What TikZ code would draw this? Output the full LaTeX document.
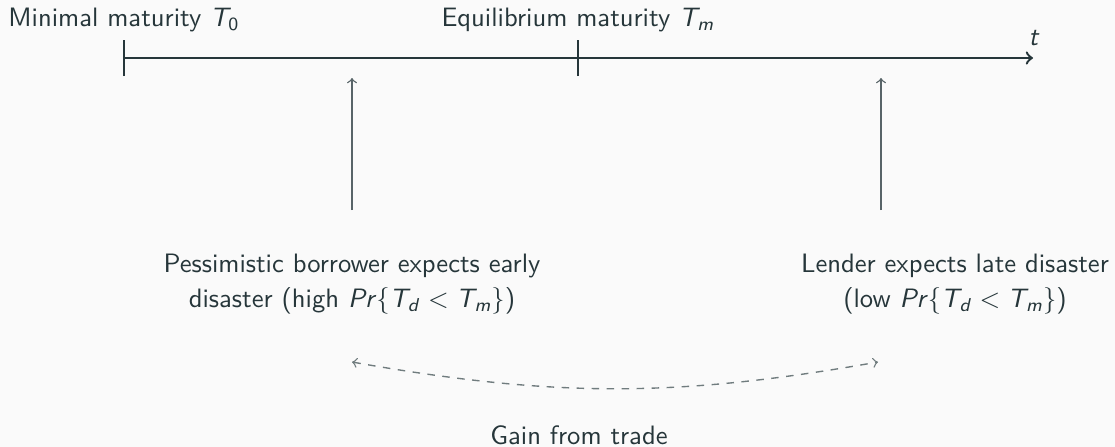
\documentclass[tikz,border=0pt]{standalone}
\usepackage{fontspec}
\usetikzlibrary{calc}
\definecolor{slideBg}{RGB}{250,250,250}
\definecolor{slideText}{RGB}{38,54,58}
\definecolor{arrowGray}{RGB}{88,100,104}
\definecolor{dashGray}{RGB}{112,124,126}
\tikzset{
  time axis/.style={line width=0.95pt,slideText,->},
  tick line/.style={line width=0.95pt,slideText},
  belief arrow/.style={line width=0.55pt,arrowGray,->},
  trade line/.style={line width=0.55pt,dashGray,dashed,<->},
  slide text/.style={text=slideText,font=\sffamily\fontsize{10.65}{14}\selectfont,inner sep=0pt},
  belief text/.style={slide text,align=center},
  >=to,
}
\newcommand{\mvar}[1]{\textit{#1}}
\newcommand{\probTdTm}{\mvar{Pr}\{\mvar{T}\kern-0.1em\textsubscript{\mvar{d}}\;<\;\mvar{T}\kern-0.1em\textsubscript{\mvar{m}}\}}

\begin{document}
\begin{tikzpicture}[x=0.4pt,y=0.4pt]
\fill[slideBg] (0,0) rectangle (1115,-447);
\useasboundingbox (0,0) rectangle (1115,-447);
% time line
\coordinate (T0) at (124,-58);
\coordinate (Tm) at (578,-58);
\coordinate (tEnd) at (1033,-58);
\draw[time axis] (T0) -- (tEnd);
\foreach \c in {T0,Tm} {
  \draw[tick line] (\c) ++(0,-18) -- ++(0,36);
}
\node[slide text] (lblT0) at (124,-20) {Minimal maturity \mvar{T}\kern-0.1em\textsubscript{0}};
\node[slide text] (lblTm) at (578,-20) {Equilibrium maturity \mvar{T}\kern-0.1em\textsubscript{\mvar{m}}};
\node[slide text] (lblt) at (1034,-38) {\mvar{t}};
% beliefs
\coordinate (bTop) at (352,-78);
\coordinate (bBot) at (352,-210);
\coordinate (lTop) at (881,-78);
\coordinate (lBot) at (881,-210);
\draw[belief arrow] (bBot) -- (bTop);
\draw[belief arrow] (lBot) -- (lTop);
\node[belief text] (borrower) at (352,-284) {Pessimistic borrower expects early\\disaster (high \probTdTm)};
\node[belief text] (lender) at (955,-284) {Lender expects late disaster\\(low \probTdTm)};
% trade
\coordinate (gL) at (352,-362);
\coordinate (gR) at (878,-362);
\draw[trade line] (gL) to[bend right=10] (gR);
\node[slide text,anchor=base] (gain) at (579,-444) {Gain from trade};
\end{tikzpicture}
\end{document}
